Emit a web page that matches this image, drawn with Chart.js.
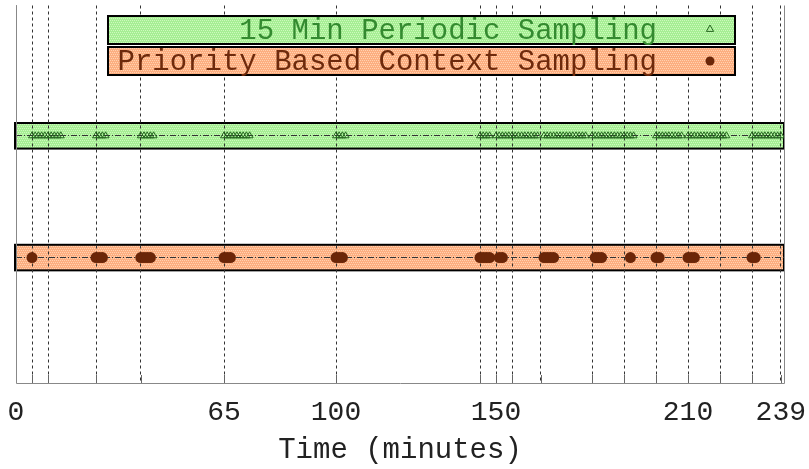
<!DOCTYPE html>
<html>
<head>
<meta charset="utf-8">
<script src="https://cdn.jsdelivr.net/npm/chart.js@4.4.1/dist/chart.umd.min.js"></script>
<style>
  body { margin: 0; background: #fff; }
</style>
</head>
<body>
<canvas id="samplingChart" width="809" height="469"></canvas>
<script>
// Sample times (minutes)
const periodicTimes = [
    5, 6, 7, 8, 9, 10, 11, 12, 13, 14,
    25, 26, 27, 28,
    39, 40, 41, 42, 43,
    65, 66, 67, 68, 69, 70, 71, 72, 73,
    100, 101, 102, 103,
    145, 146, 147, 148,
    150, 151, 152, 153, 154, 155, 156, 157, 158, 159, 160, 161, 162, 163,
    165, 166, 167, 168, 169, 170, 171, 172, 173, 174, 175, 176, 177, 178,
    180, 181, 182, 183, 184, 185, 186, 187, 188, 189, 190, 191, 192, 193,
    200, 201, 202, 203, 204, 205, 206, 207, 208,
    210, 211, 212, 213, 214, 215, 216, 217, 218, 219, 220, 221, 222,
    230, 231, 232, 233, 234, 235, 236, 237, 238, 239
];
const contextTimes = [
    5,
    25, 26, 27,
    39, 40, 41, 42,
    65, 66, 67,
    100, 101, 102,
    145, 146, 147, 148,
    151, 152,
    165, 166, 167, 168,
    181, 182, 183,
    192,
    200, 201,
    210, 211, 212,
    230, 231
];
const seriesLabels = ['15 Min Periodic Sampling', 'Priority Based Context Sampling'];
const rowLevels = [2, 1];
const gridMinutes = [0, 5, 10, 25, 39, 65, 100, 145, 150, 155, 164, 180, 190, 200, 210, 220, 230, 239];
const tickLabels = [0, 65, 100, 150, 210, 239];

const monoFont = "'Liberation Mono', 'DejaVu Sans Mono', monospace";

const ctx = document.getElementById('samplingChart').getContext('2d');

// small dithered fill, like the hatched bands in the original
function makePattern(base, speck) {
    const c = document.createElement('canvas');
    c.width = 4;
    c.height = 4;
    const g = c.getContext('2d');
    g.fillStyle = base;
    g.fillRect(0, 0, 4, 4);
    g.fillStyle = speck;
    g.fillRect(0, 0, 1, 1);
    g.fillRect(2, 0, 1, 1);
    g.fillRect(1, 2, 1, 1);
    g.fillRect(3, 2, 1, 1);
    return ctx.createPattern(c, 'repeat');
}

const greenFill = makePattern('rgb(166, 238, 148)', 'rgb(206, 250, 190)');
const orangeFill = makePattern('rgb(252, 174, 128)', 'rgb(255, 210, 178)');

function drawTriangle(g, x, y, r) {
    g.beginPath();
    g.moveTo(x, y - r);
    g.lineTo(x + r * 0.9, y + r * 0.6);
    g.lineTo(x - r * 0.9, y + r * 0.6);
    g.closePath();
    g.stroke();
}

const bandsPlugin = {
    id: 'bands',
    beforeDraw(chart) {
        const g = chart.ctx;
        const { x, y } = chart.scales;
        const left = x.getPixelForValue(x.min) - 1;
        const right = x.getPixelForValue(x.max);
        chart.data.datasets.forEach((ds, i) => {
            const top = y.getPixelForValue(rowLevels[i] + 0.105);
            const bottom = y.getPixelForValue(rowLevels[i] - 0.105);
            g.save();
            g.fillStyle = ds.bandFill;
            g.fillRect(left, top, right - left, bottom - top);
            g.lineWidth = 2;
            g.strokeStyle = '#000';
            g.strokeRect(left, top, right - left, bottom - top);
            g.restore();
        });
    },
    afterDatasetsDraw(chart) {
        const g = chart.ctx;
        const { x } = chart.scales;
        const area = chart.chartArea;
        g.save();
        g.strokeStyle = '#666';
        g.lineWidth = 1;
        // short solid ticks on the bottom axis
        gridMinutes.forEach(v => {
            const px = Math.round(x.getPixelForValue(v)) + 0.5;
            g.beginPath();
            g.moveTo(px, area.bottom);
            g.lineTo(px, area.bottom - 8);
            g.stroke();
        });
        // frame: left, right, bottom
        g.strokeStyle = '#888';
        g.beginPath();
        g.moveTo(area.left + 0.5, area.top);
        g.lineTo(area.left + 0.5, area.bottom + 0.5);
        g.lineTo(area.right + 0.5, area.bottom + 0.5);
        g.lineTo(area.right + 0.5, area.top);
        g.stroke();
        g.restore();
    },
    afterDraw(chart) {
        // legend boxes over the top of the plot
        const g = chart.ctx;
        const boxes = [{ top: 16, bottom: 44 }, { top: 47, bottom: 75 }];
        g.save();
        chart.data.datasets.forEach((ds, i) => {
            const b = boxes[i];
            g.fillStyle = ds.bandFill;
            g.fillRect(108, b.top, 627, b.bottom - b.top);
            g.lineWidth = 2;
            g.strokeStyle = '#000';
            g.strokeRect(108, b.top, 627, b.bottom - b.top);
            g.font = '29px ' + monoFont;
            g.fillStyle = ds.textColor;
            g.textAlign = 'right';
            g.textBaseline = 'middle';
            g.fillText(ds.label, 657, (b.top + b.bottom) / 2 + 1);
            const my = (b.top + b.bottom) / 2;
            if (ds.pointStyle === 'triangle') {
                g.strokeStyle = ds.borderColor;
                g.lineWidth = 1;
                drawTriangle(g, 710, my - 1, 4);
            } else {
                g.fillStyle = ds.backgroundColor;
                g.beginPath();
                g.arc(710, my, 4.5, 0, Math.PI * 2);
                g.fill();
            }
        });
        g.restore();
    }
};

const samplingChart = new Chart(ctx, {
    type: 'scatter',
    data: {
        datasets: [
            {
                label: seriesLabels[0],
                data: periodicTimes.map(t => ({ x: t, y: rowLevels[0] })),
                pointStyle: 'triangle',
                pointRadius: 4,
                borderWidth: 1,
                borderColor: '#24661e', // dark green outline
                backgroundColor: 'rgba(0, 0, 0, 0)',
                bandFill: greenFill,
                textColor: '#348a30'
            },
            {
                label: seriesLabels[1],
                data: contextTimes.map(t => ({ x: t, y: rowLevels[1] })),
                pointStyle: 'circle',
                pointRadius: 5.5,
                borderWidth: 0,
                backgroundColor: '#6b2608', // dark brown dots
                borderColor: '#6b2608',
                bandFill: orangeFill,
                textColor: '#6e2a0c'
            }
        ]
    },
    options: {
        responsive: false,
        animation: false,
        layout: {
            padding: { left: 16, right: 25, top: 0, bottom: 0 }
        },
        plugins: {
            legend: { display: false },
            tooltip: { enabled: false }
        },
        scales: {
            x: {
                type: 'linear',
                min: 0,
                max: 240,
                afterBuildTicks: scale => {
                    scale.ticks = gridMinutes.map(v => ({ value: v }));
                },
                afterFit: scale => {
                    scale.height = 86;
                    scale.paddingLeft = 0;
                    scale.paddingRight = 0;
                },
                ticks: {
                    autoSkip: false,
                    maxRotation: 0,
                    padding: 13,
                    color: '#222',
                    font: { family: monoFont, size: 28 },
                    callback: value => (tickLabels.includes(value) ? String(value) : '')
                },
                grid: {
                    drawTicks: false,
                    color: '#333',
                    lineWidth: 1
                },
                border: {
                    display: false,
                    dash: [3, 3]
                },
                title: {
                    display: true,
                    text: 'Time (minutes)',
                    color: '#222',
                    font: { family: monoFont, size: 29 },
                    padding: { top: 0, bottom: 1 }
                }
            },
            y: {
                type: 'linear',
                min: -0.03,
                max: 3.07,
                afterBuildTicks: scale => {
                    scale.ticks = rowLevels.map(v => ({ value: v }));
                },
                afterFit: scale => {
                    scale.width = 0;
                    scale.paddingTop = 0;
                    scale.paddingBottom = 0;
                },
                ticks: { display: false },
                grid: {
                    drawTicks: false,
                    color: '#333',
                    lineWidth: 1
                },
                border: {
                    display: false,
                    dash: [6, 2, 1, 2]
                }
            }
        }
    },
    plugins: [bandsPlugin]
});
</script>
</body>
</html>
